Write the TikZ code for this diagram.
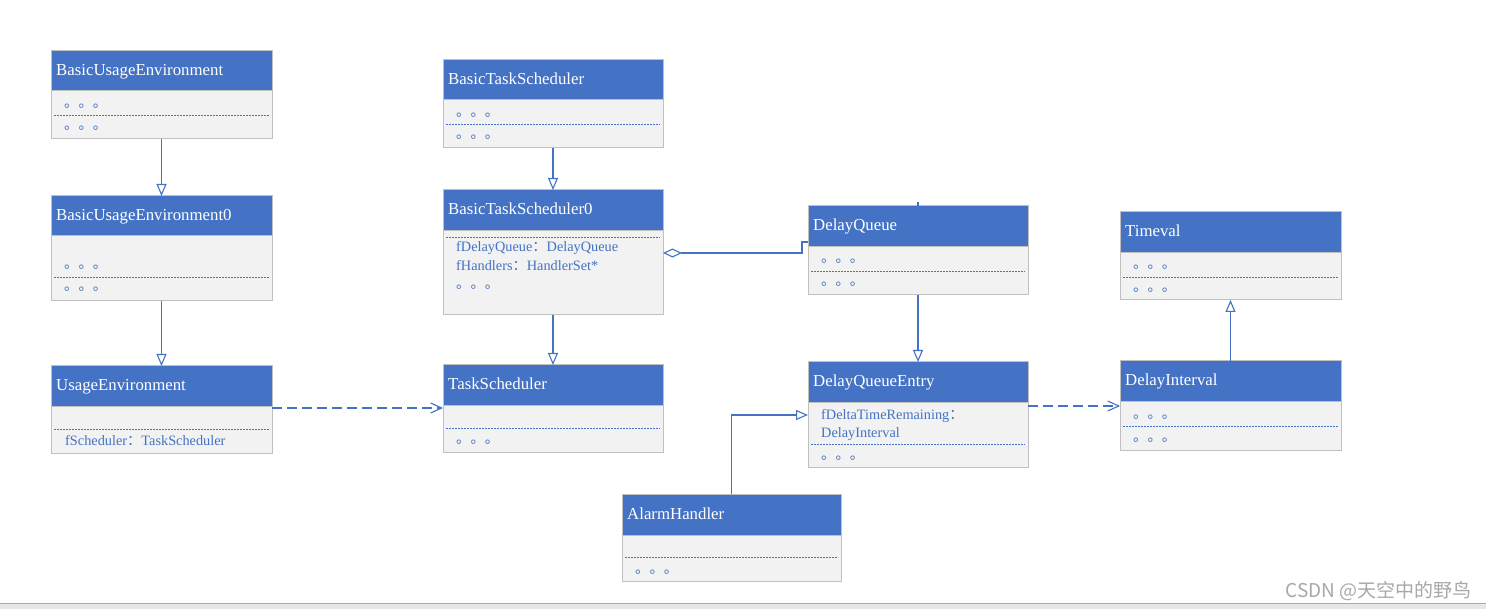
\documentclass[tikz,border=0pt]{standalone}
\usepackage{fontspec}
\setmainfont{Liberation Serif}
\newfontfamily\cjk{Noto Sans CJK SC}
\usetikzlibrary{arrows.meta,calc}
\definecolor{hdrblue}{HTML}{4472C4}
\definecolor{bodygray}{HTML}{F2F2F2}
\definecolor{bordergray}{HTML}{C0C0C0}
\definecolor{txtblue}{HTML}{4472C4}
\definecolor{linkblue}{HTML}{4472C4}
\definecolor{wmgray}{HTML}{A8A8A8}
\definecolor{stripgray}{HTML}{E6E6E6}
\definecolor{stripline}{HTML}{A9A9B6}
\tikzset{
  hdr/.style={draw=bordergray, line width=1pt, fill=hdrblue, anchor=north west, inner sep=0pt, outer sep=0pt},
  bodyb/.style={draw=bordergray, line width=1pt, fill=bodygray, anchor=north west, inner sep=0pt, outer sep=0pt},
  ttl/.style={text=white, font=\fontsize{16.8}{19}\selectfont, inner sep=0pt, anchor=base west},
  mem/.style={text=txtblue, font=\fontsize{14.3}{17}\selectfont, inner sep=0pt, anchor=base west},
  dotsty/.style={text=txtblue, font=\cjk\fontsize{14.3}{17}\selectfont, inner sep=0pt, anchor=base west},
  sepl/.style={draw=txtblue, line width=0.7pt, dash pattern=on 2pt off 1pt},
  conn/.style={draw=linkblue, line width=1.1pt},
  gen/.style={conn, -{Triangle[open, length=12pt, width=10pt]}},
  dep/.style={conn, dash pattern=on 10pt off 5pt, -{Straight Barb[length=11pt, width=10pt]}},
  agg/.style={conn, {Diamond[open, length=19pt, width=9pt]}-},
  wm/.style={text=wmgray, font=\cjk\fontsize{19}{22}\selectfont, inner sep=0pt, anchor=base east}
}
% #1 name, #2 x, #3 y, #4 width, #5 header height, #6 body height, #7 title
\newcommand\classbox[7]{%
  \node[hdr, minimum width=#4pt, minimum height=#5pt] (#1) at (#2,#3) {};
  \node[bodyb, minimum width=#4pt, minimum height=#6pt] (#1B) at (#2,#3+#5) {};
  \node[ttl] (#1T) at (#2+5,#3+25) {#7};
}
\newcommand\dotsrow[3]{\node[dotsty] (#1) at (#2,#3) {。。。};}
\newcommand\sepline[3]{\draw[sepl] (#1+3,#3) -- (#1+#2-3,#3);}
\begin{document}
\begin{tikzpicture}[x=1pt,y=-1pt]
\useasboundingbox (0,0) rectangle (1486,609);
\fill[white] (0,0) rectangle (1486,609);
\fill[stripgray] (0,603) rectangle (1486,609);
\draw[stripline, line width=1pt] (0,603) -- (1486,603);

% BasicUsageEnvironment
\classbox{bue}{51}{51}{221}{40}{48}{BasicUsageEnvironment}
\dotsrow{bued1}{64}{108}
\sepline{51}{221}{115}
\dotsrow{bued2}{64}{130}

% BasicUsageEnvironment0
\classbox{bueo}{51}{196}{221}{40}{65}{BasicUsageEnvironment0}
\dotsrow{bueod1}{64}{269}
\sepline{51}{221}{277}
\dotsrow{bueod2}{64}{291}

% UsageEnvironment
\classbox{ue}{51}{366}{221}{41}{46}{UsageEnvironment}
\sepline{51}{221}{429}
\node[mem] (uem1) at (65,445) {fScheduler{\cjk ：}TaskScheduler};

% BasicTaskScheduler
\classbox{bts}{443}{60}{220}{40}{48}{BasicTaskScheduler}
\dotsrow{btsd1}{456}{117}
\sepline{443}{220}{124}
\dotsrow{btsd2}{456}{139}

% BasicTaskScheduler0
\classbox{btso}{443}{190}{220}{41}{84}{BasicTaskScheduler0}
\sepline{443}{220}{237}
\node[mem] (btsom1) at (456,252) {fDelayQueue{\cjk ：}DelayQueue};
\node[mem] (btsom2) at (456,271) {fHandlers{\cjk ：}HandlerSet*};
\dotsrow{btsod1}{456}{289}

% TaskScheduler
\classbox{ts}{443}{365}{220}{41}{46}{TaskScheduler}
\sepline{443}{220}{428}
\dotsrow{tsd1}{456}{443}

% DelayQueue
\classbox{dq}{808}{206}{220}{41}{48}{DelayQueue}
\dotsrow{dqd1}{821}{263}
\sepline{808}{220}{271}
\dotsrow{dqd2}{821}{286}

% DelayQueueEntry
\classbox{dqe}{808}{362}{220}{41}{64}{DelayQueueEntry}
\node[mem] (dqem1) at (821,420) {fDeltaTimeRemaining{\cjk ：}};
\node[mem] (dqem2) at (821,438) {DelayInterval};
\sepline{808}{220}{444}
\dotsrow{dqed1}{821}{459}

% Timeval
\classbox{tv}{1120}{212}{221}{41}{47}{Timeval}
\dotsrow{tvd1}{1133}{269}
\sepline{1120}{221}{277}
\dotsrow{tvd2}{1133}{292}

% DelayInterval
\classbox{di}{1120}{361}{221}{41}{48}{DelayInterval}
\dotsrow{did1}{1133}{418}
\sepline{1120}{221}{426}
\dotsrow{did2}{1133}{441}

% AlarmHandler
\classbox{ah}{622}{494}{219}{41}{46}{AlarmHandler}
\sepline{622}{219}{557}
\dotsrow{ahd1}{635}{573}

% connectors
\draw[gen] (bueB.south) -- (bueo.north);
\draw[gen] (bueoB.south) -- (ue.north);
\coordinate (ueout) at ([yshift=-1pt]ueB.north east);
\draw[dep] (ueout) -- (ueout -| tsB.west);
\draw[gen] (btsB.south) -- (btso.north);
\draw[gen] (btsoB.south) -- (ts.north);
\coordinate (aggend) at ([yshift=5pt]dq.south west);
\draw[agg] ([yshift=-22pt]btsoB.north east) -| ([xshift=-6pt]aggend) -- (aggend);
\draw[conn] (dq.north) -- ++(0,4pt);
\draw[gen] (dqB.south) -- (dqe.north);
\coordinate (dqeout) at ([yshift=-3pt]dqeB.north east);
\draw[dep] (dqeout) -- (dqeout -| diB.west);
\draw[gen] (di.north) -- (tvB.south);
\draw[gen] (ah.north) |- ([yshift=-12pt]dqeB.north west);

% watermark
\node[wm] (wmark) at (1472,597) {CSDN @天空中的野鸟};
\end{tikzpicture}
\end{document}
